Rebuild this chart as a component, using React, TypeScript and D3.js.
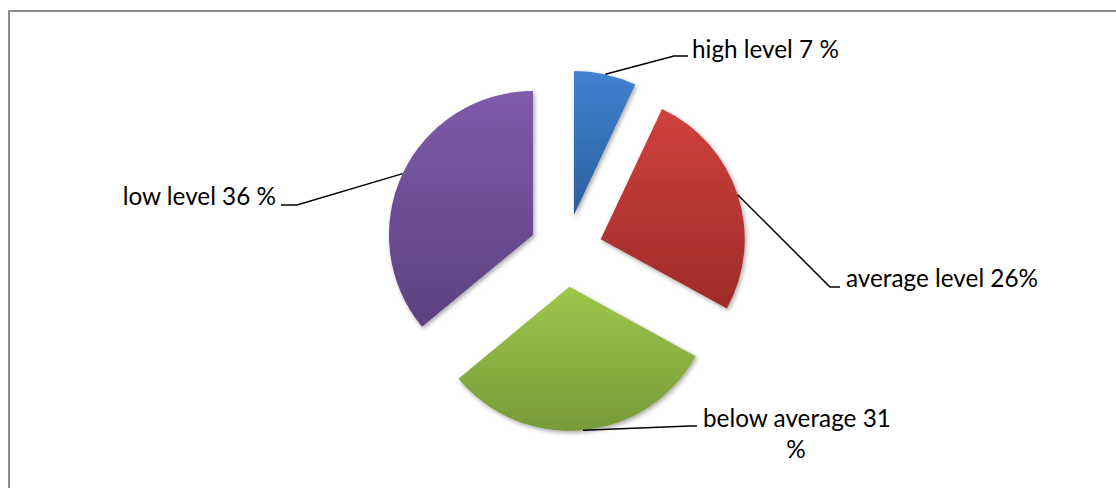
import React from "react";
import * as d3 from "d3";

const categories = ["high level", "average level", "below average", "low level"];
const values = [7, 26, 31, 36];
const labelTexts = [["high level 7 %"], ["average level 26%"], ["below average 31", "%"], ["low level 36 %"]];
const topColors = ["#4082d0", "#cf413e", "#9ec74c", "#7e5baa"];
const bottomColors = ["#2c5f9e", "#9e2b29", "#779a39", "#5d4180"];

const W = 1116;
const H = 488;
const CX = 566;
const CY = 250.5;
const R = 144;
const EXPLODE = 36.5;

// label layout: text position, anchor, elbow point and stub end
const labelLayout = [
  { tx: 692, ty: 58, anchor: "start", ex: 674, ey: 56, sx: 688, sy: 56 },
  { tx: 846, ty: 287, anchor: "start", ex: 830, ey: 287, sx: 840, sy: 287 },
  { tx: 703, ty: 427, anchor: "start", ex: 690, ey: 426, sx: 697, sy: 426 },
  { tx: 276, ty: 205, anchor: "end", ex: 297, ey: 205, sx: 281, sy: 205 },
];

export default function App() {
  const pie = d3.pie<number>().sort(null).value((d) => d);
  const arcs = pie(values);
  const arcGen = d3.arc<d3.PieArcDatum<number>>().innerRadius(0).outerRadius(R);
  const lineGen = d3.line();

  return (
    <svg
      width={W}
      height={H}
      style={{ position: "absolute", left: 0, top: 0, background: "#fff" }}
      fontFamily="Lato, 'Open Sans', sans-serif"
    >
      <defs>
        {categories.map((c, i) => (
          <linearGradient id={`g${i}`} key={c} x1="0" y1="0" x2="0" y2="1">
            <stop offset="0" stopColor={topColors[i]} />
            <stop offset="1" stopColor={bottomColors[i]} />
          </linearGradient>
        ))}
        <filter id="sh" x="-20%" y="-20%" width="140%" height="140%">
          <feDropShadow dx="1.5" dy="2" stdDeviation="2" floodColor="#000" floodOpacity="0.35" />
        </filter>
      </defs>
      <rect x={9} y={11} width={1300} height={700} fill="none" stroke="#8c8c8c" strokeWidth={2} />
      {arcs.map((a, i) => {
        const mid = (a.startAngle + a.endAngle) / 2;
        const ox = CX + EXPLODE * Math.sin(mid);
        const oy = CY - EXPLODE * Math.cos(mid);
        const px = ox + R * Math.sin(mid);
        const py = oy - R * Math.cos(mid);
        const L = labelLayout[i];
        return (
          <g key={categories[i]}>
            <path d={arcGen(a) || ""} transform={`translate(${ox},${oy})`} fill={`url(#g${i})`} filter="url(#sh)" />
            <path
              d={lineGen([[px, py], [L.ex, L.ey], [L.sx, L.sy]]) || ""}
              fill="none"
              stroke="#000"
              strokeWidth={1.5}
            />
          </g>
        );
      })}
      {arcs.map((a, i) => {
        const L = labelLayout[i];
        const lines = labelTexts[i];
        return (
          <text key={`t${i}`} x={L.tx} y={L.ty} fontSize={24.3} fill="#000" textAnchor={L.anchor as any}>
            {lines.map((ln, j) => (
              <tspan key={j} x={j === 0 ? L.tx : 796} dy={j === 0 ? 0 : 31} textAnchor={j === 0 ? (L.anchor as any) : "middle"}>
                {ln}
              </tspan>
            ))}
          </text>
        );
      })}
    </svg>
  );
}
